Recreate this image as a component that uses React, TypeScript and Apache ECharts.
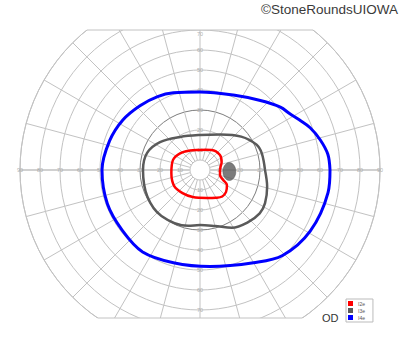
import React, { useEffect, useRef } from "react";
import * as echarts from "echarts";

// Isopters: [meridian angle (deg, 0 = right, counter-clockwise), eccentricity (deg)]
const I2E: [number, number][] = [
  [0, 10], [10, 10.5], [20, 11.5], [37, 12.5], [60, 11.6], [75, 10.5], [90, 10],
  [117, 10.9], [140, 13], [160, 14.4], [186, 14.4], [212, 15.2], [233, 14.5],
  [255, 14], [284, 14.4], [300, 16], [310, 17.3], [320, 17], [331, 15.4],
  [337, 12.5], [346, 10.3], [360, 10],
];
const I3E: [number, number][] = [
  [0, 32.5], [15, 32], [24, 31], [39, 26.5], [60, 20.5], [90, 17.5], [121, 19.3],
  [145, 24.4], [162, 27.8], [180, 28.5], [207, 29.5], [230, 30], [258, 28.5],
  [270, 27.5], [285, 29], [299, 33], [312, 35.4], [324, 36.9], [333, 36.5],
  [346, 34.6], [360, 32.5],
];
const I4E: [number, number][] = [
  [0, 65], [7, 64.4], [14, 62], [21, 59], [27, 55.5], [32, 53], [38, 51], [49, 46],
  [66, 41], [90, 39], [109, 40.8], [120, 42.4], [133, 44], [147, 46], [162, 47.5],
  [180, 49], [200, 49.3], [218, 49.2], [235, 50], [254, 48.2], [276, 48.5],
  [300, 53.5], [314, 59.4], [331, 63], [350, 65], [360, 65],
];
const BLIND_SPOT: [number, number] = [357, 14.7];

const SERIES_NAMES = ["I2e", "I3e", "I4e"];
const SERIES_COLORS = ["#ff0000", "#5a5a5a", "#0000ff"];

const HORIZONTAL_TICKS = [10, 20, 30, 40, 50, 60, 70, 80, 90];
const VERTICAL_TICKS = [10, 20, 30, 40, 50, 60, 70];

const CX = 200;
const CY = 170;
const R = 180;
const TOP_CLIP_Y = 30;
const BOTTOM_CLIP_Y = 318;

export default function App() {
  const ref = useRef<HTMLDivElement>(null);

  useEffect(() => {
    document.body.style.margin = "0";
    const chart = echarts.init(ref.current!, undefined, { renderer: "svg" });

    const toPolar = (pts: [number, number][]) => pts.map(([a, r]) => [r, a]);

    const labelData: any[] = [];
    HORIZONTAL_TICKS.forEach((v) => {
      labelData.push({ value: [v, 0] });
      labelData.push({ value: [v, 180] });
    });
    VERTICAL_TICKS.forEach((v, i) => {
      const top: any = { value: [v, 90] };
      if (i === VERTICAL_TICKS.length - 1) top.label = { offset: [0, 4] };
      labelData.push(top);
      labelData.push({ value: [v, 270] });
    });

    const gridColor = "#c2c2c2";
    const circleColors = HORIZONTAL_TICKS.map((v) => (v === 30 ? "#7d7d7d" : gridColor));
    circleColors.unshift(gridColor);

    const topHalf = Math.sqrt(R * R - (CY - TOP_CLIP_Y) ** 2);
    const botHalf = Math.sqrt(R * R - (BOTTOM_CLIP_Y - CY) ** 2);

    const isopters = [I2E, I3E, I4E];
    const widths = [2.5, 2.5, 3];

    chart.setOption({
      animation: false,
      polar: [
        { center: [CX, CY], radius: [0, R] },
        { center: [CX, CY], radius: [10, R] },
      ],
      angleAxis: [
        { polarIndex: 0, type: "value", min: 0, max: 360, startAngle: 0, clockwise: false, show: false },
        {
          polarIndex: 1, type: "value", min: 0, max: 360, interval: 15, startAngle: 0, clockwise: false,
          axisLine: { show: true, lineStyle: { color: gridColor, width: 1 } },
          axisTick: { show: false },
          axisLabel: { show: false },
          splitLine: { show: true, lineStyle: { color: gridColor, width: 1 } },
        },
      ],
      radiusAxis: [
        {
          polarIndex: 0, type: "value", min: 0, max: 90, interval: 10,
          axisLine: { show: false }, axisTick: { show: false }, axisLabel: { show: false },
          splitLine: { show: true, lineStyle: { color: circleColors, width: 1 } },
        },
        { polarIndex: 1, type: "value", min: 5, max: 90, show: false },
      ],
      legend: {
        data: SERIES_NAMES,
        orient: "vertical",
        left: 346,
        top: 299,
        icon: "rect",
        itemWidth: 5,
        itemHeight: 5,
        itemGap: 2,
        padding: [2, 8, 2, 2],
        borderColor: "#bbbbbb",
        borderWidth: 1,
        selectedMode: false,
        textStyle: { fontSize: 5, color: "#555", fontFamily: "Liberation Sans, Arial, sans-serif" },
      },
      series: [
        {
          type: "line", coordinateSystem: "polar", polarIndex: 0, silent: true, symbol: "none",
          data: [[5, 0], [90, 0]], lineStyle: { color: "#d0d0d0", width: 2 }, z: 1,
        },
        {
          type: "line", coordinateSystem: "polar", polarIndex: 0, silent: true, symbol: "none",
          data: [[5, 180], [90, 180]], lineStyle: { color: "#d0d0d0", width: 2 }, z: 1,
        },
        {
          type: "scatter", coordinateSystem: "polar", polarIndex: 0, silent: true,
          symbolSize: 1, itemStyle: { color: "rgba(0,0,0,0)" }, z: 1,
          data: labelData,
          label: {
            show: true, position: "inside", fontSize: 5.5, color: "#9a9a9a",
            fontFamily: "Liberation Sans, Arial, sans-serif",
            formatter: (p: any) => String(p.value[0]),
          },
        },
        ...isopters.map((pts, i) => ({
          name: SERIES_NAMES[i],
          type: "line",
          coordinateSystem: "polar",
          polarIndex: 0,
          symbol: "none",
          smooth: 0.35,
          data: toPolar(pts),
          color: SERIES_COLORS[i],
          lineStyle: { color: SERIES_COLORS[i], width: widths[i] },
          z: 5 + i,
        })),
        {
          type: "scatter", coordinateSystem: "polar", polarIndex: 0, silent: true,
          symbol: "circle", symbolSize: [13, 18],
          itemStyle: { color: "#5a5a5a", borderColor: "#444", borderWidth: 0.5 },
          data: [[BLIND_SPOT[1], BLIND_SPOT[0]]],
          z: 4,
        },
      ],
      graphic: [
        { type: "rect", shape: { x: 60, y: 0, width: 280, height: TOP_CLIP_Y }, style: { fill: "#fff" }, z: 100 },
        { type: "rect", shape: { x: 80, y: BOTTOM_CLIP_Y, width: 240, height: 352 - BOTTOM_CLIP_Y }, style: { fill: "#fff" }, z: 100 },
        {
          type: "line", shape: { x1: CX - topHalf, y1: TOP_CLIP_Y, x2: CX + topHalf, y2: TOP_CLIP_Y },
          style: { stroke: gridColor, lineWidth: 1 }, z: 101,
        },
        {
          type: "line", shape: { x1: CX - botHalf, y1: BOTTOM_CLIP_Y, x2: CX + botHalf, y2: BOTTOM_CLIP_Y },
          style: { stroke: gridColor, lineWidth: 1 }, z: 101,
        },
        {
          type: "text", x: 398, y: 2, z: 102,
          style: {
            text: "©StoneRoundsUIOWA", fill: "#3a3a3a", fontSize: 13.5,
            fontFamily: "Liberation Sans, Arial, sans-serif", align: "right", verticalAlign: "top",
          },
        },
        {
          type: "text", x: 322, y: 312, z: 102,
          style: {
            text: "OD", fill: "#333", fontSize: 11,
            fontFamily: "Liberation Sans, Arial, sans-serif", align: "left", verticalAlign: "top",
          },
        },
      ],
    });

    return () => chart.dispose();
  }, []);

  return <div ref={ref} style={{ width: 400, height: 352 }} />;
}
